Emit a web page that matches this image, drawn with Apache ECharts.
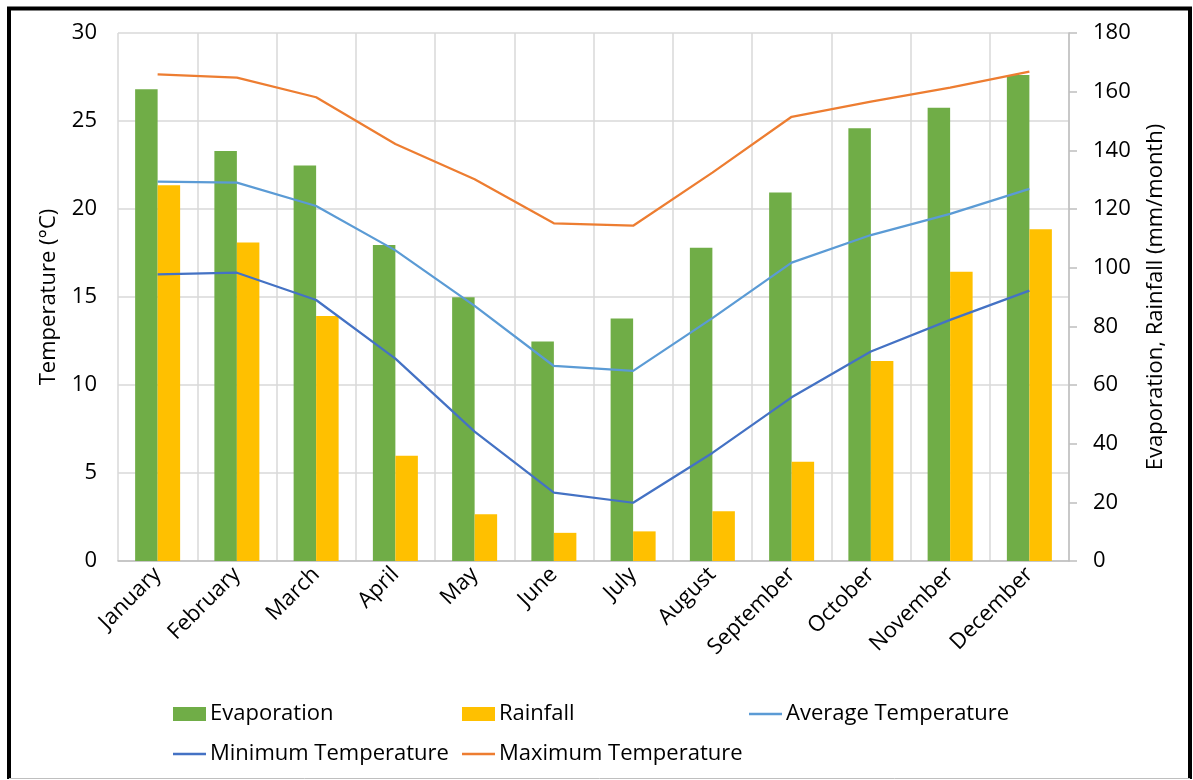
<!DOCTYPE html>
<html>
<head>
<meta charset="utf-8">
<script src="https://cdn.jsdelivr.net/npm/echarts@6/dist/echarts.min.js"></script>
<style>
html,body{margin:0;padding:0;background:#fff;}
#chart{width:1193px;height:780px;}
</style>
</head>
<body>
<div id="chart"></div>
<script>
const months = ['January','February','March','April','May','June','July','August','September','October','November','December'];
const evaporation = [160.8, 139.8, 134.8, 107.7, 89.9, 74.8, 82.7, 106.8, 125.6, 147.5, 154.5, 165.7];
const rainfall = [128.1, 108.6, 83.5, 35.9, 15.9, 9.6, 10.1, 17.0, 33.8, 68.2, 98.6, 113.1];
const avgTemp = [21.55, 21.5, 20.17, 17.65, 14.5, 11.08, 10.8, 13.8, 16.95, 18.52, 19.72, 21.14];
const minTemp = [16.29, 16.38, 14.83, 11.5, 7.35, 3.88, 3.31, 6.14, 9.3, 11.9, 13.7, 15.36];
const maxTemp = [27.65, 27.46, 26.35, 23.69, 21.69, 19.19, 19.05, 22.07, 25.24, 26.1, 26.9, 27.8];
const tempTicks = {min: 0, max: 30, interval: 5};
const waterTicks = {min: 0, max: 180, interval: 20};

const FONT = 'Open Sans';
const FS = 22;
const txt = {fontFamily: FONT, fontSize: FS, color: '#000'};

function legendAt(name, left, top, isLine) {
  return {
    data: [name], left: left, top: top, padding: 0, orient: 'horizontal',
    icon: 'rect', itemWidth: 33, itemHeight: isLine ? 2.5 : 14, itemGap: 4,
    textStyle: {fontFamily: FONT, fontSize: FS, color: '#000', padding: [0,0,0,-1]},
    selectedMode: false
  };
}

const chart = echarts.init(document.getElementById('chart'));
chart.setOption({
  backgroundColor: '#fff',
  animation: false,
  grid: {left: 118, right: 124, top: 33, bottom: 219, containLabel: false},
  legend: [
    legendAt('Evaporation', 173, 703, false),
    legendAt('Rainfall', 462, 703, false),
    legendAt('Average Temperature', 749, 703, true),
    legendAt('Minimum Temperature', 173, 743, true),
    legendAt('Maximum Temperature', 462, 743, true)
  ],
  xAxis: {
    type: 'category', data: months, boundaryGap: true,
    axisLine: {show: true, lineStyle: {color: '#bfbfbf', width: 1.5}},
    axisTick: {show: false},
    splitLine: {show: true, interval: 0, lineStyle: {color: '#d9d9d9', width: 1.5}},
    axisLabel: Object.assign({rotate: 45, interval: 0, margin: 10}, txt)
  },
  yAxis: [
    {
      type: 'value', min: tempTicks.min, max: tempTicks.max, interval: tempTicks.interval,
      name: 'Temperature (°C)', nameLocation: 'middle', nameRotate: 90, nameGap: 58,
      nameTextStyle: txt,
      axisLine: {show: false}, axisTick: {show: false},
      splitLine: {show: true, lineStyle: {color: '#d9d9d9', width: 1.5}},
      axisLabel: Object.assign({margin: 21}, txt)
    },
    {
      type: 'value', position: 'right', min: waterTicks.min, max: waterTicks.max, interval: waterTicks.interval,
      name: 'Evaporation, Rainfall (mm/month)', nameLocation: 'middle', nameRotate: 90, nameGap: 76,
      nameTextStyle: txt,
      axisLine: {show: true, lineStyle: {color: '#bfbfbf', width: 1.5}},
      axisTick: {show: true, inside: false, length: 8, lineStyle: {color: '#bfbfbf', width: 1.5}},
      splitLine: {show: false},
      axisLabel: Object.assign({margin: 24, align: 'left'}, txt)
    }
  ],
  series: [
    {name: 'Evaporation', type: 'bar', yAxisIndex: 1, data: evaporation, barWidth: 22.5, barGap: '0%',
     itemStyle: {color: '#70AD47'}, z: 2},
    {name: 'Rainfall', type: 'bar', yAxisIndex: 1, data: rainfall, barWidth: 22.5, barGap: '0%',
     itemStyle: {color: '#FFC000'}, z: 2},
    {name: 'Average Temperature', type: 'line', yAxisIndex: 0, data: avgTemp, symbol: 'none',
     lineStyle: {color: '#5B9BD5', width: 2.25}, itemStyle: {color: '#5B9BD5'}, z: 3},
    {name: 'Minimum Temperature', type: 'line', yAxisIndex: 0, data: minTemp, symbol: 'none',
     lineStyle: {color: '#4472C4', width: 2.25}, itemStyle: {color: '#4472C4'}, z: 3},
    {name: 'Maximum Temperature', type: 'line', yAxisIndex: 0, data: maxTemp, symbol: 'none',
     lineStyle: {color: '#ED7D31', width: 2.25}, itemStyle: {color: '#ED7D31'}, z: 3}
  ],
  graphic: [
    {type: 'polyline', shape: {points: [[9, 779], [9, 8.5], [1190, 8.5], [1190, 779]]},
     style: {stroke: '#000', lineWidth: 4, fill: null}, silent: true, z: 100},
    {type: 'line', shape: {x1: 9, y1: 778.5, x2: 1190, y2: 778.5},
     style: {stroke: '#bfbfbf', lineWidth: 1}, silent: true, z: 100}
  ]
});
</script>
</body>
</html>
